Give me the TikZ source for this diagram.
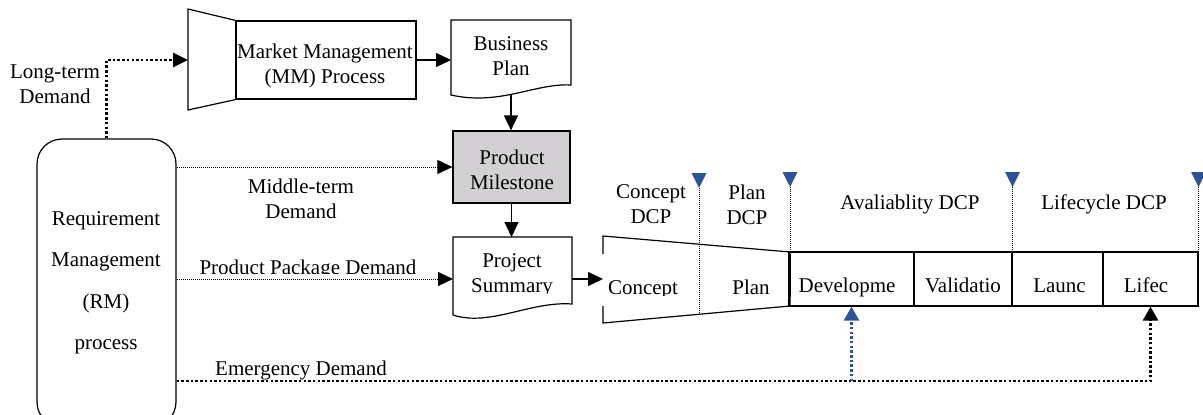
\documentclass[tikz,border=0pt]{standalone}
\usepackage{fontspec}
\setmainfont{Liberation Serif}
\usetikzlibrary{arrows.meta}
\definecolor{dcpblue}{RGB}{47,84,150}
\definecolor{msgray}{RGB}{210,208,210}
\begin{document}
\begin{tikzpicture}[x=1pt,y=-1pt,
  every node/.style={font=\fontsize{21}{25}\selectfont},
  lbl/.style={inner sep=0pt, align=center, yshift=-2pt,
    execute at begin node=\strut, execute at end node=\strut},
  box/.style={draw, line width=1.2pt, inner sep=0pt},
  ghost/.style={inner sep=0pt, outer sep=0pt},
  outline/.style={line width=1.2pt},
  arr/.style={line width=1.2pt, -{Triangle[length=15pt,width=14pt]}},
  uparr/.style={-{Triangle[length=14pt,width=15pt]}},
  tdot/.style={line width=2.7pt, dash pattern=on 2.5pt off 2.2pt},
  ndot/.style={line width=0.9pt, dash pattern=on 0.9pt off 1.1pt},
  dcpline/.style={line width=0.8pt, dash pattern=on 0.8pt off 1.2pt},
  dcpmark/.style={fill=dcpblue}]
\useasboundingbox (0,0) rectangle (1203,415);

% Requirement management process
\node[draw, line width=1.2pt, rounded corners=25pt, minimum width=139,
      minimum height=288, inner sep=0pt] (rm) at (106.5,283) {};
\node[inner sep=0pt, align=center, font=\fontsize{21}{41.5}\selectfont,
      execute at begin node=\strut, execute at end node=\strut]
      (rmtxt) at (106,287) {Requirement\\Management\\(RM)\\process};

% Market management process
\node[box, minimum width=180, minimum height=78] (mm) at (326,60) {};
\draw[outline] (mm.north west) -- (188,9) -- (188,110) -- (mm.south west);
\coordinate (mmin) at (188,60);
\node[lbl] (mmtxt) at (325,65.5) {Market Management\\(MM) Process};

% Business plan document
\node[ghost, minimum width=120, minimum height=79] (bp) at (511,59.5) {};
\draw[outline] (bp.north west) -- (bp.north east) -- (571,85)
  .. controls (535,83) and (500,106) .. (451,95) -- cycle;
\coordinate (bptail) at (511,95);
\node[lbl] (bptxt) at (511,58) {Business\\Plan};

% Product milestone
\node[box, fill=msgray, minimum width=117, minimum height=72] (pm) at (511.5,167) {};
\node[lbl] (pmtxt) at (512,171) {Product\\Milestone};

% Project summary document
\node[ghost, minimum width=119, minimum height=84] (ps) at (512.5,279) {};
\draw[outline] (ps.north west) -- (ps.north east) -- (572,304)
  .. controls (530,301) and (490,327) .. (453,315) -- cycle;
\begin{scope}
  \clip (440,230) rectangle (590,293.5);
  \node[lbl] (pstxt) at (512,274.5) {Project\\Summary};
\end{scope}

% Concept / plan funnel
\node[ghost, minimum width=187, minimum height=87] (cp) at (696.5,279.5) {};
\draw[outline] (603,254) -- (cp.north west) -- (790,252) -- (790,306)
  -- (cp.south west) -- (603,306);
\begin{scope}
  \clip (600,240) rectangle (700,295.5);
  \node[lbl] (cpt) at (643,287) {Concept};
\end{scope}
\node[lbl] (plt) at (751,287) {Plan};

% Phase boxes
\node[box, minimum width=125, minimum height=54] (dev) at (851.5,279) {};
\node[box, minimum width=98,  minimum height=54] (val) at (963,279) {};
\node[box, minimum width=91,  minimum height=54] (lau) at (1057.5,279) {};
\node[box, minimum width=95,  minimum height=54] (lif) at (1150.5,279) {};
\node[lbl] (devt) at (847,285) {Developme};
\node[lbl] (valt) at (963,285) {Validatio};
\node[lbl] (laut) at (1059.5,285) {Launc};
\node[lbl] (lift) at (1146,285) {Lifec};
\draw[line width=2.4pt] (790,254) -- (790,297);
\draw[line width=2.4pt] (1198,260) -- (1198,295);

% Decision check points
\coordinate (d1) at (699,188);
\coordinate (d2) at (790,187);
\coordinate (d3) at (1012.5,187);
\coordinate (d4) at (1198.5,187);
\coordinate (d1b) at (699,314.3);
\foreach \d in {d1,d2,d3,d4}
  \fill[dcpmark] (\d) ++(-7.5,-15) -- ++(15,0) -- (\d) -- cycle;
\draw[dcpline] (d1) -- (d1b);
\draw[dcpline] (d2) -- (d2 |- dev.north);
\draw[dcpline] (d3) -- (d3 |- lau.north);
\draw[dcpline] (d4) -- (d4 |- lif.north);
\node[lbl] (cdcp) at (651,206) {Concept\\DCP};
\node[lbl] (pdcp) at (747,206) {Plan\\DCP};
\node[lbl] (adcp) at (910,202) {Avaliablity DCP};
\node[lbl] (ldcp) at (1104,202) {Lifecycle DCP};

% Flows
\draw[arr, tdot] (rm.north) |- (mmin);
\node[lbl] (ltd) at (55,86) {Long-term\\Demand};
\draw[arr] (mm.east) -- (mm.east -| bp.west);
\draw[arr] (bptail) -- (bptail |- pm.north);
\draw[arr] (pm.south) -- (pm.south |- ps.north);
\draw[arr, ndot] (rm.east |- pm.west) -- (pm.west);
\node[lbl] (mtd) at (301,200) {Middle-term\\Demand};
\draw[arr, ndot] (rm.east |- ps.west) -- (ps.west);
\begin{scope}
  \clip (150,240) rectangle (440,273);
  \node[lbl] (ppd) at (308,267) {Product Package Demand};
\end{scope}
\draw[arr] (ps.east) -- (ps.east -| cp.west);

% Emergency demand
\path (rm.east) ++(0,98) coordinate (emstart);
\draw[arr, uparr, tdot] (emstart) -| (lif.south);
\draw[arr, uparr, tdot, dcpblue] (emstart -| dev.south) -- (dev.south);
\node[lbl] (emd) at (301,368) {Emergency Demand};
\end{tikzpicture}
\end{document}
